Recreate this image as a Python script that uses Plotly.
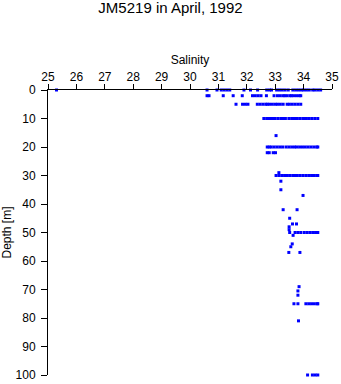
import plotly.graph_objects as go

# Salinity readings grouped by sampling depth (m)
sal_d0 = [25.3, 30.6, 30.95, 31.1, 31.2, 31.3, 31.4, 31.9, 32.13, 32.38, 32.7, 32.8, 32.87,
          33.05, 33.15, 33.25, 33.35, 33.46, 33.62, 33.72, 33.82, 33.92, 34.0, 34.1, 34.2,
          34.32, 34.4, 34.5, 34.6]
sal_d2 = [30.6, 30.67, 31.17, 31.52, 31.84, 32.2, 32.3, 32.4, 32.5, 32.69, 32.96, 33.08,
          33.18, 33.28, 33.34, 33.42, 33.52, 33.57, 33.65, 33.75, 33.85, 33.9]
sal_d5 = [31.62, 31.85, 31.95, 32.04, 32.37, 32.47, 32.57, 32.67, 32.72, 32.8, 32.9, 33.0,
          33.08, 33.18, 33.28, 33.42, 33.5, 33.6, 33.7, 33.8, 33.9]
sal_d10 = [32.6, 32.7, 32.78, 32.86, 32.94, 33.0, 33.1, 33.2, 33.28, 33.36, 33.48, 33.58,
           33.68, 33.78, 33.88, 33.98, 34.04, 34.1, 34.2, 34.3, 34.4, 34.5]
sal_d20 = [32.72, 32.79, 32.86, 32.96, 33.06, 33.16, 33.26, 33.38, 33.48, 33.58, 33.68,
           33.76, 33.86, 33.96, 34.06, 34.16, 34.26, 34.36, 34.46, 34.5]
sal_d22 = [32.72, 32.79, 32.93, 33.01]
sal_d30 = [33.03, 33.13, 33.23, 33.33, 33.43, 33.53, 33.63, 33.7, 33.78, 33.88, 33.98,
           34.08, 34.18, 34.28, 34.38, 34.48, 34.5]
sal_d50 = [33.51, 33.7, 33.8, 33.9, 34.02, 34.12, 34.22, 34.32, 34.42, 34.5]
sal_d75 = [33.66, 33.8, 34.08, 34.18, 34.28, 34.38, 34.48, 34.5]
sal_d100 = [34.14, 34.31, 34.41, 34.5]

# Individual profile points
profile_sal = [33.03, 33.13, 33.2, 33.2, 33.98, 33.28, 33.77, 33.51, 33.61, 33.75, 33.49,
               33.49, 33.63, 33.6, 33.55, 33.48, 33.87, 33.84, 33.8, 33.8, 33.82]
profile_depth = [16, 29, 32, 35, 37, 42, 42, 45, 47, 47, 48,
                 49, 51, 54, 55, 57, 57, 69, 70.5, 72, 81]

groups = [(0, sal_d0), (2, sal_d2), (5, sal_d5), (10, sal_d10), (20, sal_d20),
          (22, sal_d22), (30, sal_d30), (50, sal_d50), (75, sal_d75), (100, sal_d100)]

xs, ys = [], []
for d, sl in groups:
    xs += sl
    ys += [d] * len(sl)
xs += profile_sal
ys += profile_depth

font = "Liberation Sans, Arial, sans-serif"

fig = go.Figure(go.Scatter(
    x=xs, y=ys, mode="markers", cliponaxis=False,
    marker=dict(symbol="square", size=3, color="#0000ff", line=dict(width=0)),
))

fig.update_layout(
    width=341, height=384,
    margin=dict(l=48, r=9, t=90, b=9),
    paper_bgcolor="white", plot_bgcolor="white",
    showlegend=False,
    font=dict(family=font, size=12, color="black"),
    title=dict(text="JM5219 in April, 1992", x=0.5, xanchor="center",
               y=1 - 8 / 384, yanchor="middle", font=dict(size=15)),
    xaxis=dict(side="top", range=[25, 35], dtick=1, tick0=25, automargin=False,
               showline=True, linecolor="black", linewidth=1,
               ticks="outside", ticklen=5, tickcolor="black",
               ticklabelstandoff=-2,
               showgrid=False, zeroline=False,
               title=dict(text="Salinity", standoff=3, font=dict(size=12))),
    yaxis=dict(range=[100, 0], dtick=10, tick0=0, automargin=False,
               showline=True, linecolor="black", linewidth=1,
               ticks="outside", ticklen=6, tickcolor="black",
               ticklabelstandoff=3,
               showgrid=False, zeroline=False,
               title=dict(text="Depth [m]", standoff=4, font=dict(size=12))),
)

fig.write_html("out.html")
